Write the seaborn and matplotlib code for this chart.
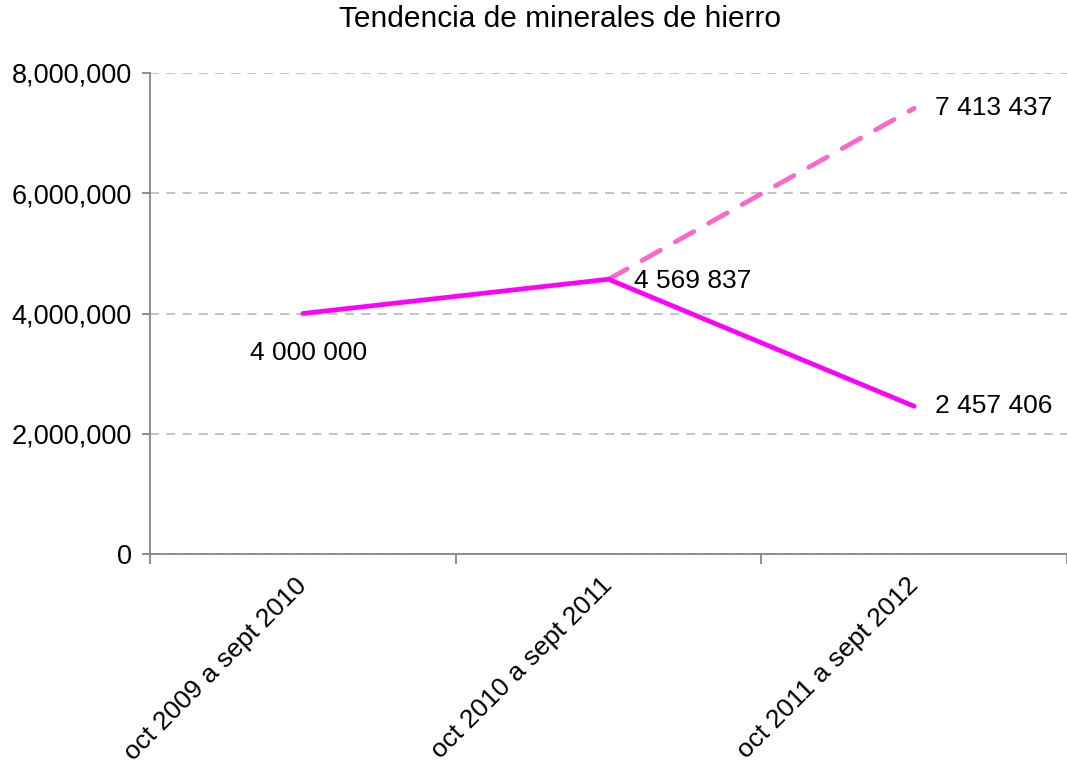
import numpy as np
import pandas as pd
import seaborn as sns
import matplotlib.pyplot as plt
from matplotlib.ticker import FuncFormatter, FixedLocator

# datos
periodos = ["oct 2009 a sept 2010", "oct 2010 a sept 2011", "oct 2011 a sept 2012"]
real = [4000000, 4569837, 2457406]
proyeccion_idx = [1, 2]
proyeccion = [4569837, 7413437]

sns.set_style("white")
plt.rcParams['font.family'] = ['Liberation Sans', 'DejaVu Sans']
plt.rcParams['text.color'] = 'black'
plt.rcParams['xtick.color'] = 'black'
plt.rcParams['ytick.color'] = 'black'

fig = plt.figure(figsize=(10.67, 7.65), dpi=100)
ax = fig.add_axes([150 / 1067, 1 - 554 / 765, (1067 - 150) / 1067, (554 - 73) / 765])

df = pd.DataFrame({'x': np.arange(len(periodos)), 'y': real})
sns.lineplot(data=df, x='x', y='y', ax=ax, color='#FF00FF', linewidth=3.4,
             solid_capstyle='round', solid_joinstyle='round', zorder=3)
dfp = pd.DataFrame({'x': proyeccion_idx, 'y': proyeccion})
sns.lineplot(data=dfp, x='x', y='y', ax=ax, color='#FF66CC', linewidth=3.4,
             linestyle=(0, (4.5, 3.6)), dash_capstyle='round', zorder=2)

ax.set_xlim(-0.5, 2.5)
ax.set_ylim(0, 8000000)
ax.set_xlabel('')
ax.set_ylabel('')

# ejes
for s in ['top', 'right']:
    ax.spines[s].set_visible(False)
for s in ['left', 'bottom']:
    ax.spines[s].set_color('#868686')
    ax.spines[s].set_linewidth(1.3)

ax.yaxis.set_major_locator(FixedLocator([0, 2000000, 4000000, 6000000, 8000000]))
ax.yaxis.set_major_formatter(FuncFormatter(lambda v, p: f"{int(v):,}"))
ax.tick_params(axis='y', direction='out', length=6, width=1.3, color='#868686',
               labelcolor='black', labelsize=19.5, pad=7, left=True)

ax.xaxis.set_major_locator(FixedLocator([-0.5, 0.5, 1.5, 2.5]))
ax.xaxis.set_major_formatter(FuncFormatter(lambda v, p: ''))
ax.xaxis.set_minor_locator(FixedLocator(np.arange(len(periodos))))
ax.set_xticklabels(periodos, minor=True, rotation=45, ha='right',
                   rotation_mode='anchor', fontsize=19)
ax.tick_params(axis='x', which='major', direction='out', length=7, width=1.3,
               color='#868686', bottom=True)
ax.tick_params(axis='x', which='minor', length=0, pad=20, labelcolor='black')
for lbl in ax.get_xticklabels(minor=True):
    lbl.set_va('center')

ax.yaxis.grid(True, color='#BFBFBF', linestyle=(0, (5, 4)), linewidth=1.3)
ax.xaxis.grid(False)
ax.set_axisbelow(True)

# etiquetas de datos
def fmt(v):
    return f"{v:,}".replace(',', ' ')

ax.annotate(fmt(real[0]), (0, real[0]), xytext=(-53, -40), textcoords='offset pixels',
            fontsize=19, ha='left', va='center')
ax.annotate(fmt(real[1]), (1, real[1]), xytext=(25, -2), textcoords='offset pixels',
            fontsize=19, ha='left', va='center')
ax.annotate(fmt(real[2]), (2, real[2]), xytext=(21, 0), textcoords='offset pixels',
            fontsize=19, ha='left', va='center')
ax.annotate(fmt(proyeccion[1]), (2, proyeccion[1]), xytext=(21, 0), textcoords='offset pixels',
            fontsize=19, ha='left', va='center')

fig.text(560 / 1067, 1 - 19 / 765, "Tendencia de minerales de hierro", fontsize=21.5,
         ha='center', va='center')

fig.savefig('out.png', dpi=100)
